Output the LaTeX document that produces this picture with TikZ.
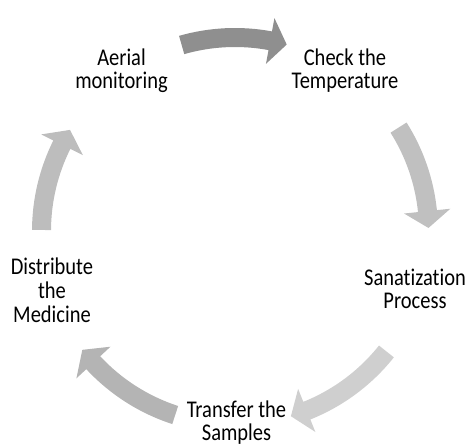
\documentclass[tikz,border=0pt]{standalone}
\usepackage{fontspec}
\usepackage{graphicx}
\usepackage{xcolor}
\usepackage{tikz}
\setmainfont{Carlito}[Ligatures=NoCommon]
\definecolor{cycledark}{RGB}{143, 143, 143}
\definecolor{cyclemid}{RGB}{192, 192, 192}
\definecolor{cyclelight}{RGB}{207, 207, 207}
\definecolor{cycledeep}{RGB}{180, 180, 180}
\definecolor{cyclesoft}{RGB}{189, 189, 189}

% label text: centred lines, slightly stretched upwards
\newcommand{\steptext}[1]{\scalebox{1}[1.17]{\begin{tabular}{@{}c@{}}#1\end{tabular}}}

% curved block arrow round the hub: tail angle, tip angle, colour
\newcommand{\cyclearrow}[3]{%
  \fill[#3] (#1:184pt) arc[start angle=#1, end angle={#2+5}, radius=184pt]
    -- ({#2+5}:170pt) -- (#2:193.5pt) -- ({#2+5}:216.5pt) -- ({#2+5}:203pt)
    arc[start angle={#2+5}, end angle=#1, radius=203pt] -- cycle;}

\begin{document}
\begin{tikzpicture}[x=1pt, y=1pt,
    steplabel/.style={inner sep=0pt, text=black, font=\fontsize{20.5}{19.9}\selectfont}]
    \useasboundingbox (-235,-215) rectangle (232,231);

    % Aerial monitoring
    \node[steplabel] (aerial) at (-113.5,159) {\steptext{Aerial\\monitoring}};

    % Check the temperature
    \node[steplabel] (temp) at (110,159) {\steptext{Check the\\Temperature}};

    % Sanatization
    \node[steplabel] (sanit) at (180,-61.3) {\steptext{Sanatization\\Process}};

    % Transfer the samples
    \node[steplabel] (transfer) at (1.5,-193.2) {\steptext{Transfer the\\Samples}};

    % Distribute the medicine
    \node[steplabel] (distr) at (-183,-62.7) {\steptext{Distribute\\the\\Medicine}};

    % Arrows of the cycle
    \cyclearrow{106}{74.5}{cycledark}
    \cyclearrow{32.3}{0.9}{cyclemid}
    \cyclearrow{-38.5}{-73.2}{cyclelight}
    \cyclearrow{-108}{-142.1}{cycledeep}
    \cyclearrow{179.7}{148.5}{cyclesoft}
\end{tikzpicture}
\end{document}
